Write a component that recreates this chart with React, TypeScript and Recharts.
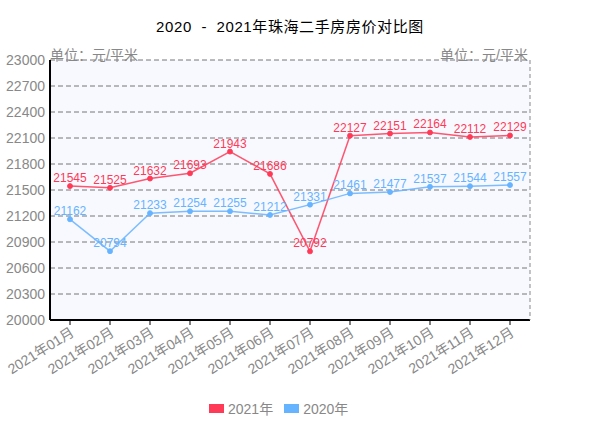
import { LineChart, Line, XAxis, YAxis, CartesianGrid, Legend, LabelList } from "recharts";

const months = [
  "2021年01月", "2021年02月", "2021年03月", "2021年04月", "2021年05月", "2021年06月",
  "2021年07月", "2021年08月", "2021年09月", "2021年10月", "2021年11月", "2021年12月",
];
const price2021 = [21545, 21525, 21632, 21693, 21943, 21686, 20792, 22127, 22151, 22164, 22112, 22129];
const price2020 = [21162, 20794, 21233, 21254, 21255, 21212, 21331, 21461, 21477, 21537, 21544, 21557];
const yTicks = [20000, 20300, 20600, 20900, 21200, 21500, 21800, 22100, 22400, 22700, 23000];

const RED = "#ff3a57";
const BLUE = "#66b3ff";
const GRAY = "#888";
const FONT = "'Liberation Sans', 'Noto Sans CJK SC', sans-serif";

const data = months.map((m, i) => ({ month: m, y2021: price2021[i], y2020: price2020[i] }));

const MonthTick = ({ x, y, payload }: any) => (
  <text
    x={x + 5} y={y + 8}
    transform={`rotate(-32, ${x + 5}, ${y + 8})`}
    textAnchor="end" fontSize={14} fill={GRAY} fontFamily={FONT}
  >
    {payload.value}
  </text>
);

const unitLabel = (side: "left" | "right") => (props: any) => {
  const vb = props.viewBox;
  const x = side === "left" ? vb.x + vb.width : vb.x - 2;
  return (
    <text x={x} y={vb.y} textAnchor={side === "left" ? "start" : "end"}
      fontSize={14} fill={GRAY} fontFamily={FONT}>
      单位：元/平米
    </text>
  );
};

const LegendBox = () => (
  <div style={{
    display: "flex", justifyContent: "flex-start", paddingLeft: 209, gap: 11, marginTop: -8,
    fontSize: 14, color: GRAY, fontFamily: FONT,
  }}>
    {[["2021年", RED], ["2020年", BLUE]].map(([name, c]) => (
      <div key={name} style={{ display: "flex", alignItems: "center" }}>
        <span style={{ width: 15, height: 9, background: c, display: "inline-block", marginRight: 4 }} />
        {name}
      </div>
    ))}
  </div>
);

export default function App() {
  return (
    <div style={{ position: "absolute", left: 0, top: 0, width: 610, height: 436, background: "#fff" }}>
      <div style={{
        position: "absolute", top: 15, left: 0, width: 580, textAlign: "center",
        fontSize: 15, fontFamily: FONT, color: "#000", whiteSpace: "pre", letterSpacing: 0.6,
      }}>
        {"2020  -  2021年珠海二手房房价对比图"}
      </div>
      <LineChart width={610} height={436} data={data} margin={{ top: 60, right: 0, left: 0, bottom: 0 }}>
        <CartesianGrid vertical={false} stroke="#777" strokeDasharray="5 3" fill="#f8f9ff" fillOpacity={1} yAxisId="left" />
        <XAxis
          dataKey="month" height={86} interval={0} padding={{ left: 20, right: 20 }}
          tick={<MonthTick />} tickSize={5}
          axisLine={{ stroke: "#000", strokeWidth: 2 }} tickLine={{ stroke: "#000" }}
        />
        <YAxis
          yAxisId="left" orientation="left" width={50}
          domain={[20000, 23000]} ticks={yTicks} interval={0}
          tickLine={false} tickSize={3} axisLine={{ stroke: "#000", strokeWidth: 2 }}
          tick={{ fontSize: 14, fill: GRAY, fontFamily: FONT }}
          label={unitLabel("left")}
        />
        <YAxis
          yAxisId="right" orientation="right" width={80}
          domain={[20000, 23000]} ticks={yTicks} interval={0}
          tickLine={false} tickSize={4} axisLine={{ stroke: GRAY, strokeDasharray: "4 3" }}
          tick={{ fontSize: 14, fill: GRAY, fontFamily: FONT, textAnchor: "start" }}
          label={unitLabel("right")}
        />
        <Legend verticalAlign="bottom" height={30} content={<LegendBox />} />
        <Line
          yAxisId="left" dataKey="y2021" name="2021年" stroke={RED} strokeWidth={1.5} strokeOpacity={0.85}
          dot={{ r: 2.5, fill: RED, stroke: RED, strokeWidth: 1 }} isAnimationActive={false}
        >
          <LabelList dataKey="y2021" position="top" offset={4} style={{ fontSize: 12, fill: RED, fontFamily: FONT }} />
        </Line>
        <Line
          yAxisId="left" dataKey="y2020" name="2020年" stroke={BLUE} strokeWidth={1.5} strokeOpacity={0.85}
          dot={{ r: 2.5, fill: BLUE, stroke: BLUE, strokeWidth: 1 }} isAnimationActive={false}
        >
          <LabelList dataKey="y2020" position="top" offset={4} style={{ fontSize: 12, fill: BLUE, fontFamily: FONT }} />
        </Line>
      </LineChart>
    </div>
  );
}
